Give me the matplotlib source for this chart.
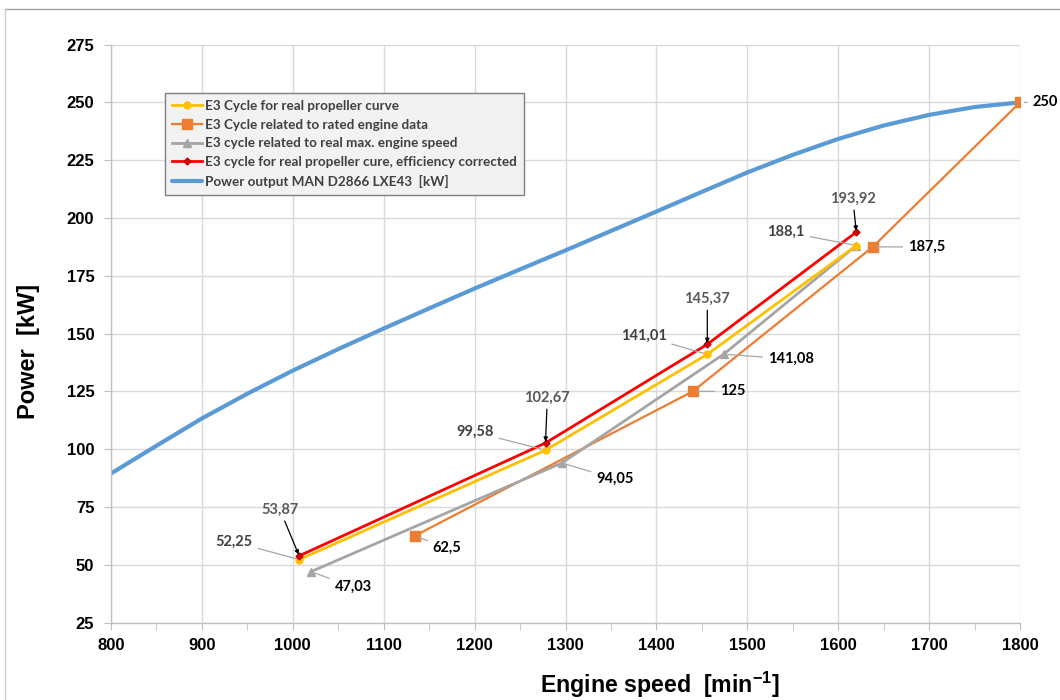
import matplotlib
matplotlib.use("Agg")
import matplotlib.pyplot as plt
from matplotlib.lines import Line2D
from matplotlib.ticker import MultipleLocator
from matplotlib import font_manager

# ---------------- data ----------------
blue_speed = [800, 850, 900, 950, 1000, 1050, 1100, 1150, 1200, 1250, 1300, 1350,
              1400, 1450, 1500, 1550, 1600, 1650, 1700, 1750, 1800]
blue_power = [89.5, 101.5, 113.3, 124.0, 134.0, 143.3, 152.2, 160.9, 169.5, 177.8,
              186.0, 194.4, 202.8, 211.3, 219.7, 227.3, 234.2, 240.0, 244.6, 248.0, 250.0]

yellow_speed = [1007, 1278, 1456, 1620]
yellow_power = [52.25, 99.58, 141.01, 188.1]

orange_speed = [1134, 1440, 1638, 1800]
orange_power = [62.5, 125, 187.5, 250]

gray_speed = [1020, 1296, 1474, 1620]
gray_power = [47.03, 94.05, 141.08, 188.1]

red_speed = [1007, 1278, 1456, 1620]
red_power = [53.87, 102.67, 145.37, 193.92]

legend_labels = [
    "E3 Cycle for real propeller curve",
    "E3 Cycle related to rated engine data",
    "E3 cycle related to real max. engine speed",
    "E3 cycle for real propeller cure, efficiency corrected",
    "Power output MAN D2866 LXE43  [kW]",
]

x_ticks = [800, 900, 1000, 1100, 1200, 1300, 1400, 1500, 1600, 1700, 1800]
y_ticks = [25, 50, 75, 100, 125, 150, 175, 200, 225, 250, 275]

# label text positions (data coords) for each series
yellow_text = [(956, 59.9), (1221, 107.4), (1411, 149.0), (1563, 193.9)]
red_text = [(986, 70.7), (1280, 119.1), (1456, 161.9), (1616, 205.2)]
gray_text = [(1046, 40.4), (1334, 87.1), (1523, 139.0), None]
orange_text = [(1154, 57.3), (1470, 125.0), (1677, 187.5), (1814, 250.0)]


def fmt(v):
    return ("%g" % v).replace(".", ",")


# ---------------- fonts ----------------
available = {f.name for f in font_manager.fontManager.ttflist}
if "Liberation Sans Narrow" in available:
    narrow = ["Liberation Sans Narrow", "DejaVu Sans"]
    narrow_tick, narrow_label = 15, 20
else:
    narrow = ["Liberation Sans", "DejaVu Sans"]
    narrow_tick, narrow_label = 12, 16.7
arialb = ["Liberation Sans", "DejaVu Sans"]
lab_font = ["Lato", "DejaVu Sans"]

plt.rcParams["mathtext.fontset"] = "custom"
plt.rcParams["mathtext.rm"] = narrow[0] + ":bold"
plt.rcParams["mathtext.bf"] = narrow[0] + ":bold"
plt.rcParams["mathtext.default"] = "rm"

# ---------------- figure ----------------
W, H, DPI = 1060, 700, 100
fig = plt.figure(figsize=(W / DPI, H / DPI), dpi=DPI)
ax = fig.add_axes([111 / W, 1 - 622.6 / H, (1020 - 111) / W, (622.6 - 44.6) / H])

C_BLUE = "#5b9bd5"
C_ORANGE = "#ed7d31"
C_YELLOW = "#ffc000"
C_GRAY = "#a5a5a5"
C_RED = "#ff0000"

l_yel, = ax.plot(yellow_speed, yellow_power, color=C_YELLOW, lw=2.0, marker="o",
                 ms=5, mfc=C_YELLOW, mec=C_YELLOW, zorder=4)
l_or, = ax.plot(orange_speed, orange_power, color=C_ORANGE, lw=1.6, marker="s",
                ms=7, mfc=C_ORANGE, mec=C_ORANGE, zorder=3)
l_gr, = ax.plot(gray_speed, gray_power, color=C_GRAY, lw=2.0, marker="^",
                ms=6, mfc=C_GRAY, mec=C_GRAY, zorder=3.5)
l_red, = ax.plot(red_speed, red_power, color=C_RED, lw=2.0, marker="D",
                 ms=3.5, mfc="#e00000", mec="#c00000", zorder=5)
l_blue, = ax.plot(blue_speed, blue_power, color=C_BLUE, lw=3.0, zorder=2,
                  solid_capstyle="round", solid_joinstyle="round")

ax.set_xlim(800, 1800)
ax.set_ylim(25, 275)
ax.set_xticks(x_ticks)
ax.set_yticks(y_ticks)
ax.set_xticklabels([str(v) for v in x_ticks], fontfamily=narrow, fontweight="bold",
                   fontsize=narrow_tick)
ax.set_yticklabels([str(v) for v in y_ticks], fontfamily=arialb, fontweight="bold",
                   fontsize=12)
ax.xaxis.set_minor_locator(MultipleLocator(50))
ax.grid(True, which="major", color="#d9d9d9", lw=1.0, zorder=0)
ax.set_axisbelow(True)
for s in ["top", "right"]:
    ax.spines[s].set_visible(False)
for s in ["left", "bottom"]:
    ax.spines[s].set_color("#bfbfbf")
    ax.spines[s].set_linewidth(1.0)
ax.tick_params(axis="both", which="both", color="#bfbfbf", direction="out")
ax.tick_params(axis="x", which="major", length=5, pad=6)
ax.tick_params(axis="x", which="minor", length=5)
ax.tick_params(axis="y", which="major", length=5, pad=7)

ax.set_ylabel("Power  [kW]", fontfamily=arialb, fontweight="bold", fontsize=17)
ax.yaxis.set_label_coords((40 - 111) / 909, 0.47)
fig.text(660 / W, 1 - 685 / H, "Engine speed  [min$^{-1}$]", fontfamily=narrow,
         fontweight="bold", fontsize=narrow_label, ha="center", va="center")

# ---------------- data labels ----------------


def label(xy, txt_xy, text, color, lcolor, ha):
    if txt_xy is None:
        return
    ax.annotate(text, xy=xy, xytext=txt_xy, textcoords="data", ha=ha, va="center",
                fontsize=10.5, fontfamily=lab_font, fontweight="bold", color=color,
                arrowprops=dict(arrowstyle="-", color=lcolor, lw=0.9, shrinkA=2,
                                shrinkB=3),
                annotation_clip=False, zorder=6)


for (x, y), t in zip(zip(yellow_speed, yellow_power), yellow_text):
    label((x, y), t, fmt(y), "#404040", "#a6a6a6", "right")
for (x, y), t in zip(zip(red_speed, red_power), red_text):
    ax.annotate(fmt(y), xy=(x, y), xytext=t, ha="center", va="bottom",
                fontsize=10.5, fontfamily=lab_font, fontweight="bold", color="#595959",
                arrowprops=dict(arrowstyle="-|>", mutation_scale=6, color="black",
                                lw=0.9, shrinkA=1, shrinkB=1),
                annotation_clip=False, zorder=6)
for (x, y), t in zip(zip(gray_speed, gray_power), gray_text):
    label((x, y), t, fmt(y), "black", "#a6a6a6", "left")
for (x, y), t in zip(zip(orange_speed, orange_power), orange_text):
    label((x, y), t, fmt(y), "black", "#a6a6a6", "left")

# ---------------- legend ----------------
leg = ax.legend([l_yel, l_or, l_gr, l_red, l_blue], legend_labels,
                loc="upper left", bbox_to_anchor=((165 - 111) / (1020 - 111),
                                                   1 - (93 - 44.6) / (622.6 - 44.6)),
                prop={"family": lab_font, "weight": "bold", "size": 9.75},
                frameon=True, fancybox=False, framealpha=1, borderpad=0.5,
                labelspacing=0.5, handlelength=2.2, handletextpad=0.25,
                borderaxespad=0)
leg.get_frame().set_facecolor("#f2f2f2")
leg.get_frame().set_edgecolor("#7f7f7f")
leg.get_frame().set_linewidth(1.0)
for t in leg.get_texts():
    t.set_color("#404040")
leg.set_zorder(7)

# ---------------- chart frame ----------------
fig.add_artist(Line2D([5 / W, 1], [1 - 9 / H, 1 - 9 / H], color="#a0a0a0", lw=1.0))
fig.add_artist(Line2D([5 / W, 5 / W], [1 - 9 / H, 0], color="#d0d0d0", lw=1.0))

fig.savefig("out.png", dpi=DPI, facecolor="white")
